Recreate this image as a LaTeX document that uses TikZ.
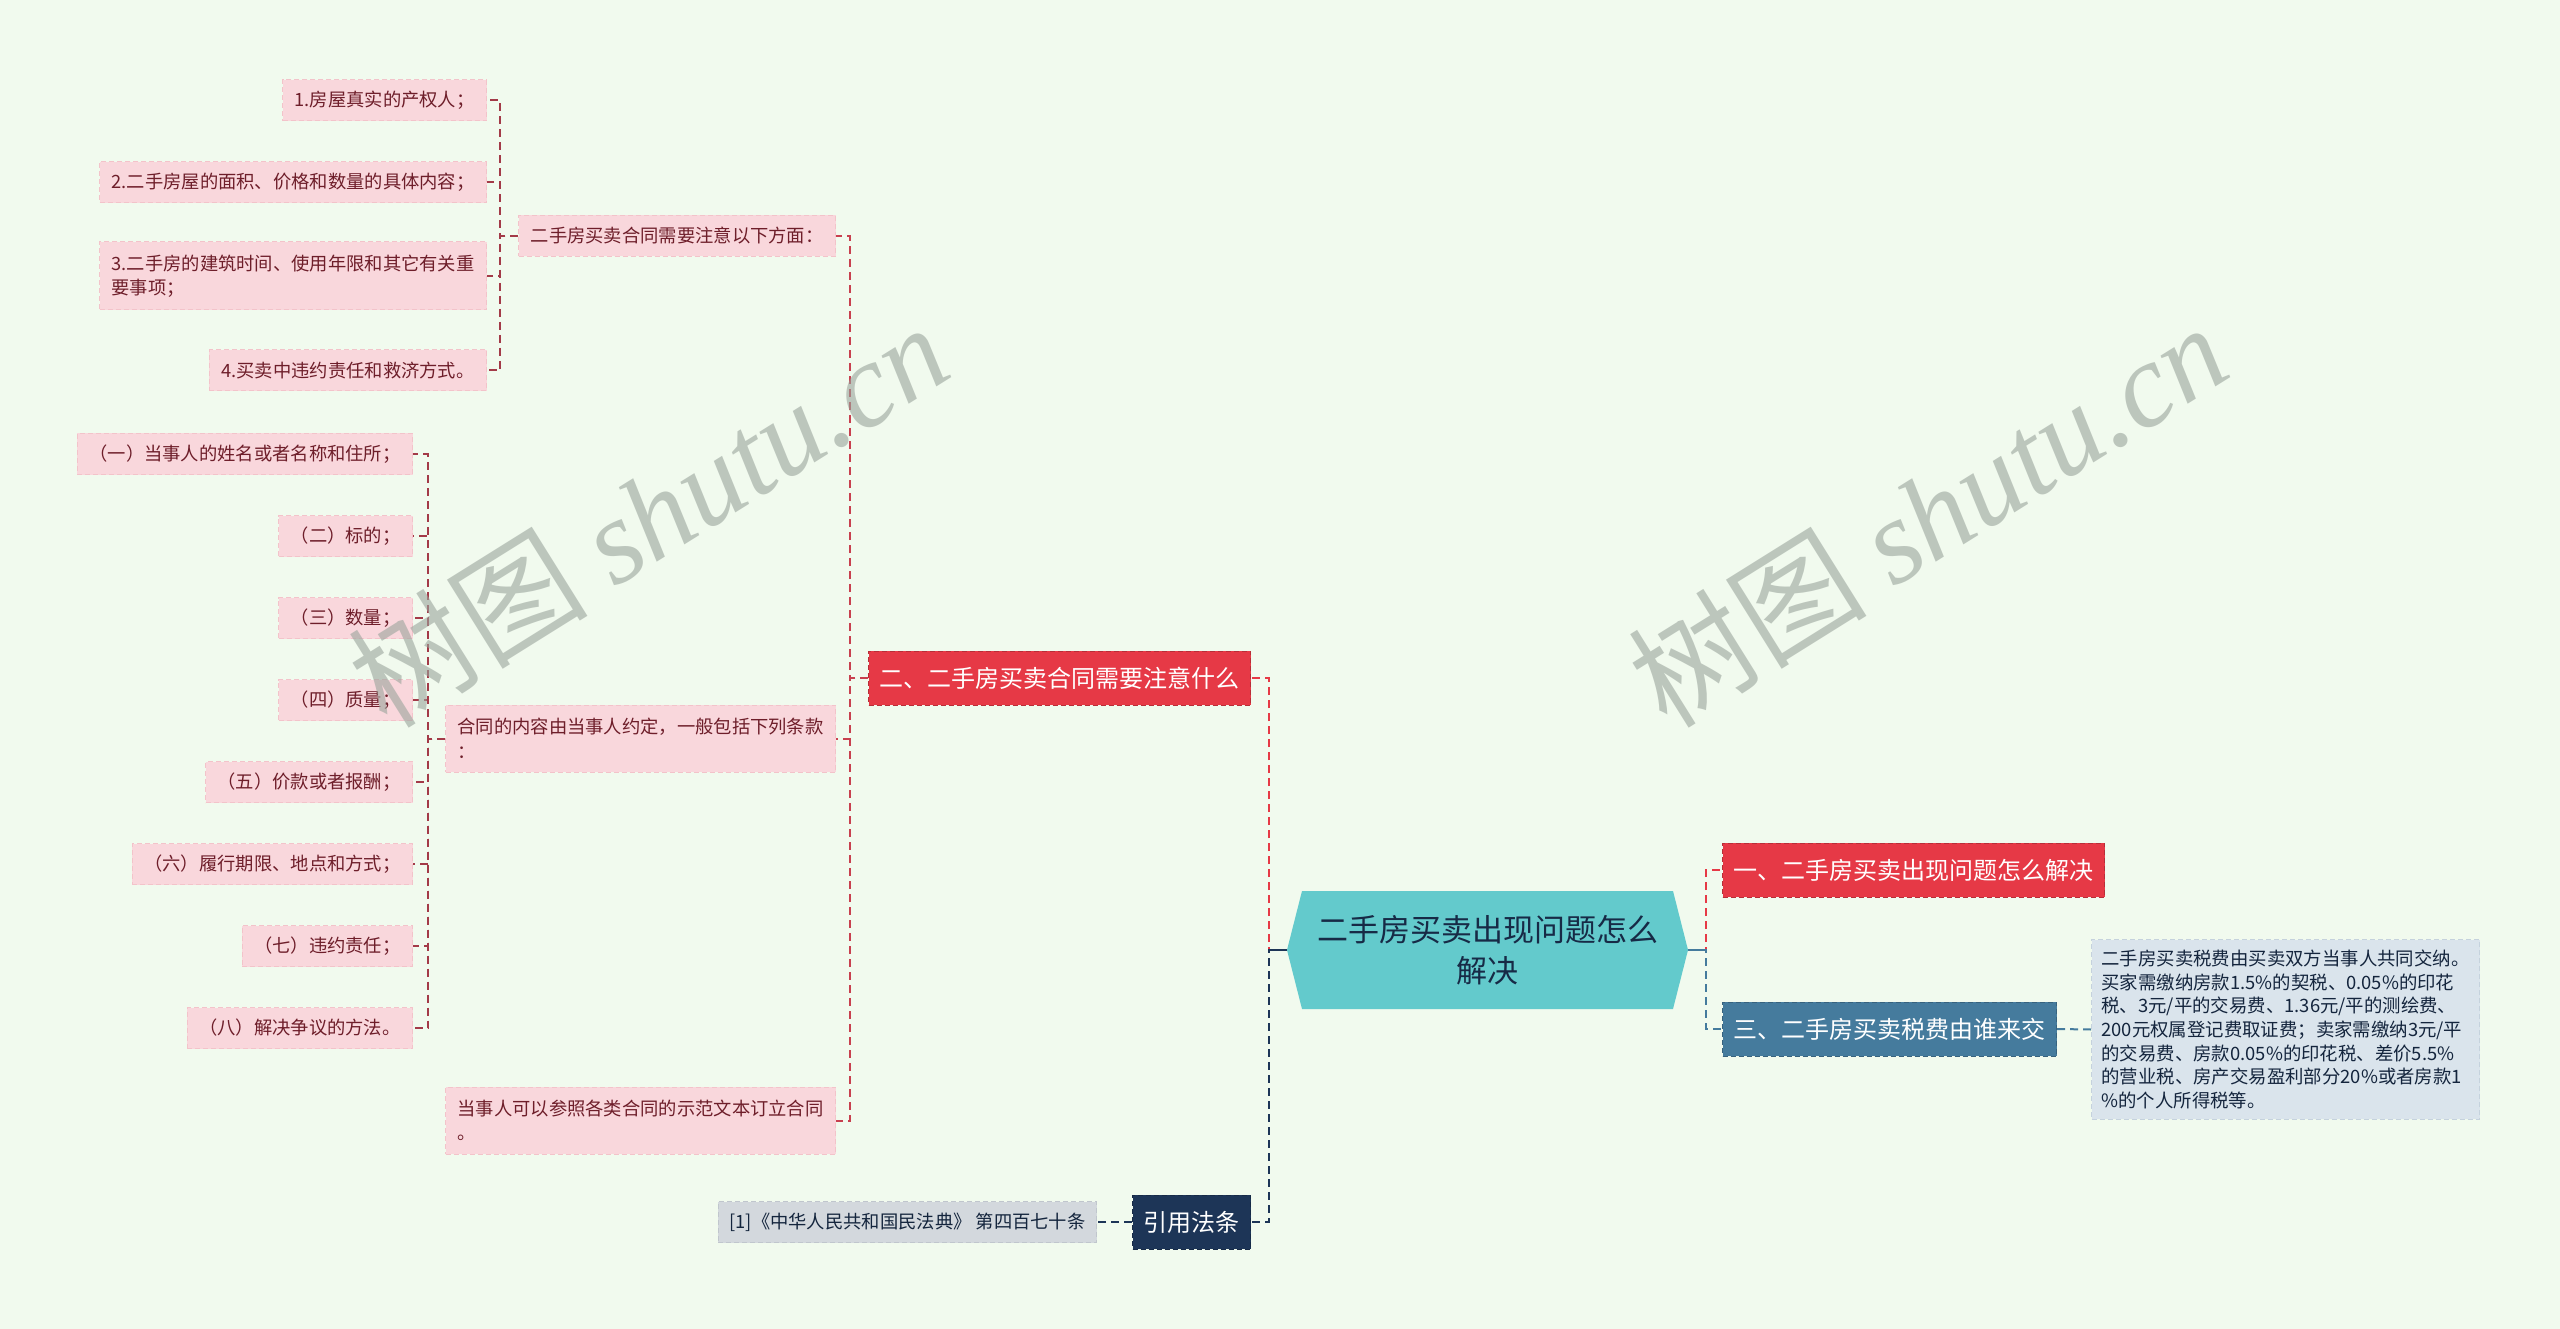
\documentclass[tikz,border=0pt]{standalone}
\usepackage{fontspec}
\setmainfont{Noto Sans CJK SC}
\newfontfamily\wmserif{Liberation Serif}
\definecolor{bgc}{HTML}{F1FAEE}
\definecolor{pinkf}{HTML}{F9D7DC}
\definecolor{pinkd}{HTML}{F3C3CA}
\definecolor{maroon}{HTML}{6E1E2A}
\definecolor{redc}{HTML}{E63946}
\definecolor{redd}{HTML}{C92F3C}
\definecolor{bluec}{HTML}{457B9D}
\definecolor{blued}{HTML}{3A6A88}
\definecolor{navyc}{HTML}{1D3557}
\definecolor{ctr}{HTML}{63CACC}
\definecolor{detf}{HTML}{DAE4EC}
\definecolor{detd}{HTML}{C5D2DD}
\definecolor{grayf}{HTML}{D3D8DD}
\definecolor{grayd}{HTML}{C0C6CD}
\definecolor{l3line}{HTML}{C8404F}
\definecolor{l4line}{HTML}{A33A48}
\definecolor{wm}{HTML}{9AA49C}
\tikzset{
  leaf/.style={fill=pinkf, draw=pinkd, dash pattern=on 5pt off 3pt, line width=1pt,
    text=maroon, font=\fontsize{18.3}{24.5}\selectfont, inner xsep=12pt, inner ysep=0pt,
    minimum height=41pt, align=left},
  lvtwo/.style={fill=#1, draw=#1!80!black, dash pattern=on 5pt off 3pt, line width=1pt,
    text=white, font=\fontsize{24}{30}\selectfont, inner xsep=11pt, inner ysep=0pt,
    minimum height=54pt},
  edge/.style={draw=#1, line width=2pt, dash pattern=on 8pt off 5pt},
}
\begin{document}
\begin{tikzpicture}[x=1pt,y=-1pt]
\fill[bgc] (0,0) rectangle (2560,1329);
\useasboundingbox (0,0) rectangle (2560,1329);

% center hexagon
\fill[ctr] (1287,950) -- (1302,891) -- (1673,891) -- (1688,950) -- (1673,1009) -- (1302,1009) -- cycle;
\node[minimum width=401pt, minimum height=118pt, inner sep=0pt, align=center,
  text=navyc!80!black, font=\fontsize{31}{41}\selectfont] (c) at (1487.5,950)
  {二手房买卖出现问题怎么\\解决};

% level 2
\node[lvtwo=redc, anchor=east] (b2) at (1251,678) {二、二手房买卖合同需要注意什么};
\node[lvtwo=navyc, anchor=east] (bl) at (1251,1222) {引用法条};
\node[lvtwo=redc, anchor=west] (b1) at (1722,870) {一、二手房买卖出现问题怎么解决};
\node[lvtwo=bluec, anchor=west] (b3) at (1722,1029) {三、二手房买卖税费由谁来交};

% details
\node[fill=detf, draw=detd, dash pattern=on 5pt off 3pt, line width=1pt, anchor=west,
  text=navyc!70!black, font=\fontsize{18.4}{23.7}\selectfont, align=left,
  inner xsep=10pt, inner ysep=10pt] (d3) at (2091,1029.5)
  {二手房买卖税费由买卖双方当事人共同交纳。\\
   买家需缴纳房款1.5\%的契税、0.05\%的印花\\
   税、3元/平的交易费、1.36元/平的测绘费、\\
   200元权属登记费取证费；卖家需缴纳3元/平\\
   的交易费、房款0.05\%的印花税、差价5.5\%\\
   的营业税、房产交易盈利部分20\%或者房款1\\
   \%的个人所得税等。};
\node[fill=grayf, draw=grayd, dash pattern=on 5pt off 3pt, line width=1pt, anchor=east,
  text=navyc!70!black, font=\fontsize{18.3}{24}\selectfont, inner xsep=11pt, inner ysep=0pt,
  minimum height=41pt] (ref) at (1097,1222) {[1]《中华人民共和国民法典》 第四百七十条};

% level 3
\node[leaf, anchor=east] (m1) at (836,236) {二手房买卖合同需要注意以下方面：};
\node[leaf, anchor=east, minimum height=67pt] (m2) at (836,738.5) {合同的内容由当事人约定，一般包括下列条款\\：};
\node[leaf, anchor=east, minimum height=67pt] (m3) at (836,1120.5) {当事人可以参照各类合同的示范文本订立合同\\。};

% level 4 (m1)
\node[leaf, anchor=east] (a1) at (487,100.5) {1.房屋真实的产权人；};
\node[leaf, anchor=east] (a2) at (487,182.5) {2.二手房屋的面积、价格和数量的具体内容；};
\node[leaf, anchor=east, minimum height=68pt] (a3) at (487,276) {3.二手房的建筑时间、使用年限和其它有关重\\要事项；};
\node[leaf, anchor=east] (a4) at (487,370.5) {4.买卖中违约责任和救济方式。};

% level 4 (m2)
\node[leaf, anchor=east] (k1) at (413,454) {（一）当事人的姓名或者名称和住所；};
\node[leaf, anchor=east] (k2) at (413,536) {（二）标的；};
\node[leaf, anchor=east] (k3) at (413,618) {（三）数量；};
\node[leaf, anchor=east] (k4) at (413,700) {（四）质量；};
\node[leaf, anchor=east] (k5) at (413,782) {（五）价款或者报酬；};
\node[leaf, anchor=east] (k6) at (413,864) {（六）履行期限、地点和方式；};
\node[leaf, anchor=east] (k7) at (413,946) {（七）违约责任；};
\node[leaf, anchor=east] (k8) at (413,1028) {（八）解决争议的方法。};

% connectors level 1
\draw[edge=redc] (c.west) -- ++(-18,0) |- (b2.east);
\draw[edge=navyc] (c.west) -- ++(-18,0) |- (bl.east);
\draw[edge=redc] (c.east) -- ++(18,0) |- (b1.west);
\draw[edge=bluec] (c.east) -- ++(18,0) |- (b3.west);
\draw[navyc, line width=2.5pt] (c.west) -- ++(-18,0);
\draw[bluec, line width=2.5pt] (c.east) -- ++(18,0);

\draw[edge=navyc] (bl.west) -- (ref.east);
\draw[edge=bluec] (b3.east) -- (d3.west);

% connectors level 2 -> 3
\foreach \n in {m1,m2,m3}
  \draw[edge=l3line] (b2.west) -- ++(-18,0) |- (\n.east);
% level 3 -> 4
\foreach \n in {a1,a2,a3,a4}
  \draw[edge=l4line] (m1.west) -- ++(-18,0) |- (\n.east);
\foreach \n in {k1,k2,k3,k4,k5,k6,k7,k8}
  \draw[edge=l4line] (m2.west) -- ++(-17,0) |- (\n.east);

% watermarks
\node[rotate=32, text=wm, opacity=0.6, font=\fontsize{120}{120}\selectfont] (w1) at (648,514)
  {树图 {\wmserif\itshape shutu.cn}};
\node[rotate=32, text=wm, opacity=0.6, font=\fontsize{120}{120}\selectfont] (w2) at (1927,514)
  {树图 {\wmserif\itshape shutu.cn}};
\end{tikzpicture}
\end{document}
